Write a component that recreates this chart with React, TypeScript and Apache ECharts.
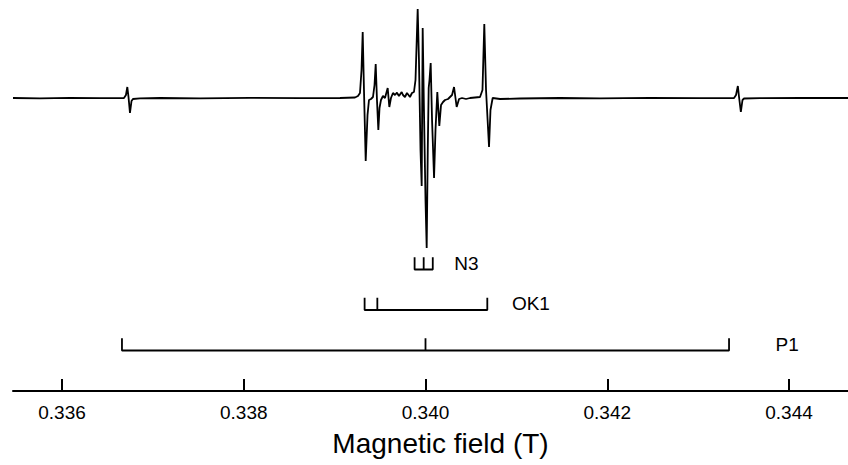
import React, { useEffect, useRef } from "react";
import * as echarts from "echarts";

// Magnetic field (T) of the spectrum trace points
const FIELD = [
  0.335461, 0.335758, 0.336088, 0.336418, 0.336682, 0.336704, 0.336719, 0.336732, 0.336748, 0.336765,
  0.336781, 0.336858, 0.337078, 0.337519, 0.338069, 0.338619, 0.339059, 0.339224, 0.339257, 0.339279,
  0.339296, 0.339309, 0.339323, 0.339342, 0.339362, 0.339378, 0.3394, 0.339422, 0.339439, 0.339452,
  0.339466, 0.339481, 0.339494, 0.33951, 0.339532, 0.339554, 0.339584, 0.339602, 0.33962, 0.339642,
  0.339664, 0.339686, 0.339708, 0.339738, 0.339752, 0.339774, 0.339796, 0.339813, 0.339829, 0.339851,
  0.339873, 0.33989, 0.339914, 0.339928, 0.339945, 0.339958, 0.339969, 0.339983, 0.34, 0.340013,
  0.340025, 0.340035, 0.340044, 0.340057, 0.340072, 0.340094, 0.34011, 0.34013, 0.340152, 0.340171,
  0.340193, 0.340215, 0.340248, 0.340292, 0.340314, 0.340343, 0.340369, 0.340402, 0.340446, 0.34049,
  0.340545, 0.3406, 0.340627, 0.340647, 0.340666, 0.340699, 0.340715, 0.340739, 0.34082, 0.34104,
  0.34148, 0.34192, 0.34247, 0.343021, 0.343395, 0.343417, 0.343437, 0.34345, 0.34347, 0.343488,
  0.343505, 0.343681, 0.344121, 0.344649,
];

// EPR derivative signal (arbitrary units)
const INTENSITY = [
  0, -0.3, 0.2, -0.2, 0, 3, 11, 1, -15, -3,
  -1, -0.3, 0, -0.3, 0.2, -0.2, 0, 0.5, 2, 5,
  28, 66, 8, -63, -17, -2, -1, 1, 13, 34,
  -2, -32, -10, -2, 2, 0, 10, -9, 0, 5,
  3, 5.3, 2, 6, 3, 1, 5, 3, 1, 5,
  6, 18, 89, 38, -52, -88, 70, -12, -102, -150,
  -52, 10, 18, 35, -22, -80, -32, 6, -28, -7,
  -4, -2, -1, 3, 11, -9, -1, 0, -1, 0,
  0.5, 1, 8, 74, 8, -49, -12, 0, -1, -0.5,
  0, -0.3, 0.2, -0.2, 0, 3, 12, 1, -14, -2,
  -0.5, -0.2, 0, 0,
];

// Stick diagrams (line positions, T)
const N3_LINES = [0.33988, 0.33998, 0.34008];
const OK1_LINES = [0.33933, 0.33947, 0.34068];
const P1_LINES = [0.33666, 0.34, 0.34334];
const STICK_NAMES = ["P1", "OK1", "N3"];
const STICK_LABEL_FIELD = [0.34398, 0.34116, 0.34045];

const TICKS = [0.336, 0.338, 0.34, 0.342, 0.344];
const X_MIN = 0.335461;
const X_MAX = 0.344649;

function bracketPath(lines: number[], row: number, h: number) {
  const pts: number[][] = [];
  lines.forEach((p, i) => {
    if (i === 0) {
      pts.push([p, row + h], [p, row]);
    } else if (i === lines.length - 1) {
      pts.push([p, row], [p, row + h]);
    } else {
      pts.push([p, row], [p, row + h], [p, row]);
    }
  });
  return pts;
}

export default function App() {
  const ref = useRef<HTMLDivElement>(null);
  useEffect(() => {
    if (!ref.current) return;
    const chart = echarts.init(ref.current, null, { renderer: "svg" });
    const font = "'Liberation Sans', Arial, sans-serif";
    const stickSets = [P1_LINES, OK1_LINES, N3_LINES];
    const tickH = 0.3;
    chart.setOption({
      animation: false,
      backgroundColor: "#ffffff",
      grid: [
        { left: 13, right: 0, top: 0, height: 260 },
        { left: 13, right: 0, bottom: 74, height: 141.75 },
      ],
      xAxis: [
        { type: "value", gridIndex: 0, min: X_MIN, max: X_MAX, show: false },
        {
          type: "value",
          gridIndex: 1,
          min: X_MIN,
          max: X_MAX,
          position: "bottom",
          splitLine: { show: false },
          axisLine: { show: true, lineStyle: { color: "#000", width: 2 } },
          axisTick: {
            show: true,
            inside: true,
            length: 12,
            customValues: TICKS,
            lineStyle: { color: "#000", width: 2 },
          },
          axisLabel: {
            customValues: TICKS,
            formatter: (v: number) => v.toFixed(3),
            color: "#000",
            fontSize: 19,
            fontFamily: font,
            margin: 12,
          },
          name: "Magnetic field (T)",
          nameLocation: "middle",
          nameGap: 38,
          nameTextStyle: { fontSize: 28, fontFamily: font, color: "#000", padding: [0, 0, 0, 20] },
        },
      ],
      yAxis: [
        { type: "value", gridIndex: 0, min: -162, max: 98, show: false },
        { type: "value", gridIndex: 1, min: 0, max: 3.5, show: false },
      ],
      series: [
        {
          type: "line",
          xAxisIndex: 0,
          yAxisIndex: 0,
          symbol: "none",
          data: FIELD.map((b, i) => [b, INTENSITY[i]]),
          lineStyle: { color: "#000", width: 1.8 },
        },
        ...stickSets.map((lines, k) => ({
          type: "line",
          xAxisIndex: 1,
          yAxisIndex: 1,
          symbol: "none",
          data: bracketPath(lines, k + 1, tickH),
          lineStyle: { color: "#000", width: 1.8 },
        })),
        {
          type: "scatter",
          xAxisIndex: 1,
          yAxisIndex: 1,
          symbolSize: 0,
          itemStyle: { opacity: 1, color: "#000" },
          data: STICK_NAMES.map((n, k) => ({ value: [STICK_LABEL_FIELD[k], k + 1 + 0.15], name: n })),
          label: {
            show: true,
            position: "inside",
            formatter: (p: any) => p.name,
            color: "#000",
            opacity: 1,
            fontSize: 19,
            fontFamily: font,
          },
        },
      ],
    });
    return () => chart.dispose();
  }, []);
  return (
    <div
      ref={ref}
      style={{ position: "fixed", left: 0, top: 0, width: 848, height: 465, background: "#fff" }}
    />
  );
}
